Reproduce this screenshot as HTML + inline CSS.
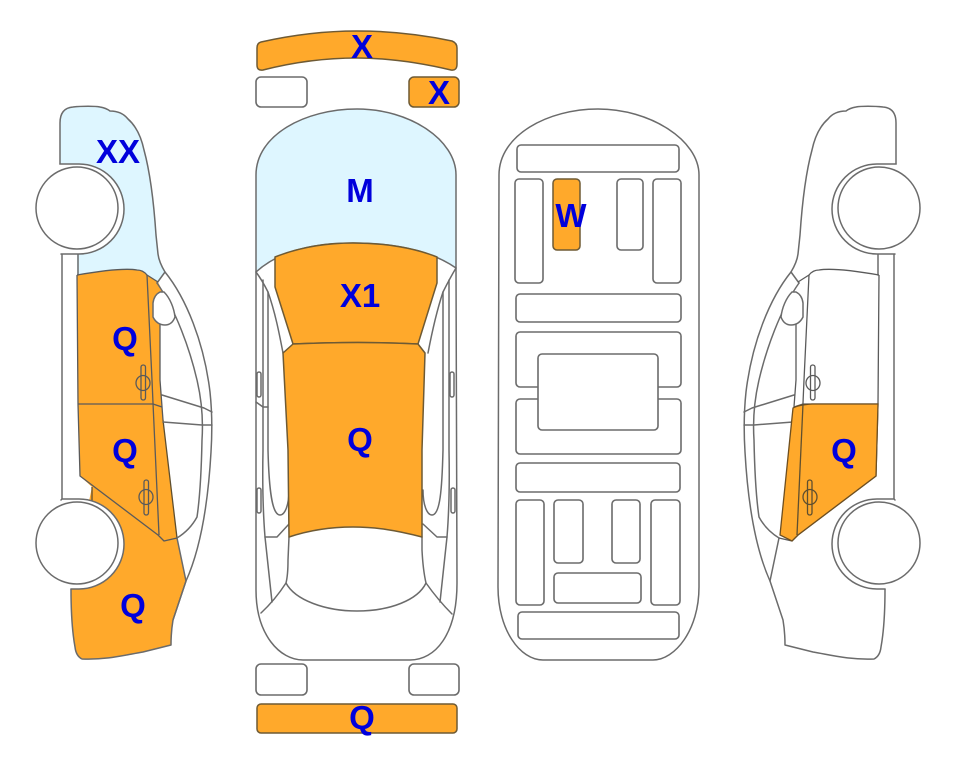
<!DOCTYPE html>
<html>
<head>
<meta charset="utf-8">
<style>
html,body{margin:0;padding:0;background:#fff;width:963px;height:768px;overflow:hidden}
svg{display:block}
.l{fill:none;stroke:#6b6b6b;stroke-width:1.5;stroke-linejoin:round;stroke-linecap:round}
.w{fill:#fff;stroke:#6b6b6b;stroke-width:1.5}
.o{fill:#ffa92b;stroke:#6e5a34;stroke-width:1.5;stroke-linejoin:round}
.b{fill:#def6ff;stroke:#6b6b6b;stroke-width:1.5;stroke-linejoin:round}
.d{fill:none;stroke:#5f4f2f;stroke-width:1.3;stroke-linejoin:round}
.r{fill:#fff;stroke:#6b6b6b;stroke-width:1.6}
text{font-family:"Liberation Sans",sans-serif;font-weight:bold;font-size:33px;fill:#0000dc;text-anchor:middle}
</style>
</head>
<body>
<svg width="963" height="768" viewBox="0 0 963 768" xmlns="http://www.w3.org/2000/svg">
<defs>
<g id="side">
  <path class="l" d="M60,164 L60,123 Q60,108 73,107 C82,106 95,106 100,107 Q106,108 110,111 C118,111 124,114 128,119 C136,126 141,136 144,150 C150,172 154,205 156,235 L158,254 Q159,262 165,272 C186,298 204,342 210,392 Q213,420 211,452 C208,505 200,550 186,581 L173,620 Q171,632 171,645 L143,652 C125,655 107,660 82,659 Q76,656 75,647 Q71,625 71,589"/>
  <path class="l" d="M165,272 L157,283"/>
  <path class="l" d="M157,283 C176,310 190,350 197,380 Q204,410 202,440 Q201,490 197,517 Q190,530 177,538"/>
  <path class="l" d="M177,538 L186,581"/>
  <path class="l" d="M162,395 L204,408 Q210,411 212,412 M163,422 L202,425 L212,425"/>
  <path class="l" d="M62,254 L62,500 M78,254 L78,275"/>
  <path class="w" d="M60,164 L79,164 A45,45 0 0 1 79,254 L61,254 Z" style="stroke:none"/>
  <path class="l" d="M60,164 L79,164 A45,45 0 0 1 79,254 L61,254"/>
  <path class="w" d="M61,499 L79,499 A45,45 0 0 1 79,589 L71,589 Z" style="stroke:none"/>
  <path class="l" d="M61,500 L62,499 L79,499 A45,45 0 0 1 79,589 L71,589"/>
  <circle class="w" cx="77" cy="208" r="41"/>
  <circle class="w" cx="77" cy="543" r="41"/>
  <path class="d" style="stroke:#5a5a5a" d="M77,275 L78,404 L80,476 L158,535 L164,541 L177,538"/>
  <path class="d" style="stroke:#5a5a5a" d="M77,275 C100,271 125,268 137,270 Q143,270 147,275 L158,282"/>
  <path class="d" style="stroke:#5a5a5a" d="M147,275 L152,380 L153,403 L159,535"/>
  <path class="d" style="stroke:#5a5a5a" d="M78,404 L153,404 L162,407"/>
  <path class="d" style="stroke:#5a5a5a" d="M160,292 L160,380 L163,420"/>
  <path class="w" d="M153,303 Q154,295 160,292 L164,292 C170,298 174,308 175,317 Q172,325 165,325 Q157,325 153,317 Z"/>
  <ellipse class="d" style="stroke:#5a5a5a" cx="143" cy="383" rx="7" ry="7.5"/>
  <rect class="d" style="stroke:#5a5a5a" x="141" y="365" width="4.5" height="35" rx="2.2"/>
  <ellipse class="d" style="stroke:#5a5a5a" cx="146" cy="497" rx="7" ry="7.5"/>
  <rect class="d" style="stroke:#5a5a5a" x="144" y="480" width="4.5" height="35" rx="2.2"/>
</g>
</defs>

<path fill="#def6ff" d="M60,164 L60,123 Q60,108 73,107 C82,106 95,106 100,107 Q106,108 110,111 C118,111 124,114 128,119 C136,126 141,136 144,150 C150,172 154,205 156,235 L158,254 Q159,262 165,272 L157,283 L147,275 L77,275 L77,250 Z"/>
<path fill="#ffa92b" d="M77,275 C100,271 125,268 137,270 Q143,270 147,275 L158,282 L163,292 L160,330 L160,380 L163,420 L177,538 L186,581 L173,620 Q171,632 171,645 L143,652 C125,655 107,660 82,659 Q76,656 75,647 Q71,625 71,587 L92,487 L80,476 L78,404 Z"/>
<path class="d" d="M92,487 L92,510 M163,420 L177,538 M186,581 L173,620"/>
<use href="#side"/>

<use href="#side" transform="translate(956,0) scale(-1,1)"/>
<path fill="#ffa92b" stroke="#6e4f20" stroke-width="1.3" d="M878,404 L876,476 L798,535 L792,541 L780,535 L793,408 Q798,405 812,404 Z"/>
<path class="d" d="M803,404 L797,535"/>
<ellipse class="d" cx="810" cy="497" rx="7" ry="7.5"/>
<rect class="d" x="807.500" y="480" width="4.500" height="35" rx="2.200"/>

<path class="o" d="M261,42 Q310,31 357,31 Q405,31 452,41 Q457,43 457,48 L457,64 Q457,71 451,70 Q400,58 357,58 Q310,58 263,70 Q257,71 257,65 L257,48 Q257,43 261,42 Z"/>
<rect class="r" x="256" y="77" width="51" height="30" rx="5"/>
<rect class="o" x="409" y="77" width="50" height="30" rx="5"/>

<path class="b" d="M256,272 L256,175 C256,135 305,109 357,109 C410,109 456,140 456,175 L456,268 C430,250 395,243 353,243 C315,243 280,250 256,272 Z"/>
<path class="l" d="M256,272 L256,590 C256,635 280,660 303,660 L410,660 C435,660 457,635 457,583 L456,268"/>
<path class="l" d="M256,272 Q262,280 268,292 C275,312 279,332 283,353 M456,268 Q450,278 443,292 C437,310 432,332 428,353"/>
<path class="l" d="M263,280 L263,450 Q262,500 265,537 L272,602 M449,280 L449,450 Q450,500 447,537 L440,602"/>
<path class="l" d="M268,292 L268,450 C269,490 272,515 280,515 C285,515 289,505 289,490 M443,292 L443,450 C442,490 440,515 432,515 C427,515 423,505 423,490"/>
<path class="l" d="M265,537 L277,537 L289,524 M447,537 L437,537 L423,524"/>
<path class="l" d="M256,402 L263,407 L268,407"/>
<rect class="l" x="257" y="372" width="4" height="25" rx="2"/>
<rect class="l" x="450" y="372" width="4" height="25" rx="2"/>
<rect class="l" x="257" y="488" width="4" height="25" rx="2"/>
<rect class="l" x="451" y="488" width="4" height="25" rx="2"/>
<path class="l" d="M289,537 L288,560 Q288,575 286,583 C295,600 325,611 357,611 C390,611 418,600 426,583 Q423,570 422,550 L422,537"/>
<path class="l" d="M286,583 Q275,600 261,613 M426,583 Q438,600 452,614"/>
<path class="o" d="M275,257 C300,247 325,243 353,243 C385,243 415,248 437,257 L437,283 L418,344 Q360,341 293,344 L275,287 Z"/>
<path class="o" d="M293,344 Q360,341 418,344 L425,353 L422,450 L422,537 C395,530 375,527 353,527 C330,527 310,530 289,537 L288,450 L283,353 Z"/>

<rect class="r" x="256" y="664" width="51" height="31" rx="5"/>
<rect class="r" x="409" y="664" width="50" height="31" rx="5"/>
<rect class="o" x="257" y="704" width="200" height="29" rx="4"/>

<path class="l" d="M499,175 C499,135 548,109 598,109 C650,109 699,140 699,175 L699,587 C699,630 675,660 653,660 L543,660 C520,660 498,630 498,587 Z"/>
<rect class="r" x="517" y="145" width="162" height="27" rx="4"/>
<rect class="r" x="515" y="179" width="28" height="104" rx="4"/>
<rect class="o" x="553" y="179" width="27" height="71" rx="4"/>
<rect class="r" x="617" y="179" width="26" height="71" rx="4"/>
<rect class="r" x="653" y="179" width="28" height="104" rx="4"/>
<rect class="r" x="516" y="294" width="165" height="28" rx="4"/>
<rect class="r" x="516" y="332" width="165" height="55" rx="4"/>
<rect class="r" x="516" y="399" width="165" height="55" rx="4"/>
<rect class="r" x="538" y="354" width="120" height="76" rx="4"/>
<rect class="r" x="516" y="463" width="164" height="29" rx="4"/>
<rect class="r" x="516" y="500" width="28" height="105" rx="4"/>
<rect class="r" x="554" y="500" width="29" height="63" rx="4"/>
<rect class="r" x="612" y="500" width="28" height="63" rx="4"/>
<rect class="r" x="651" y="500" width="29" height="105" rx="4"/>
<rect class="r" x="554" y="573" width="87" height="30" rx="4"/>
<rect class="r" x="518" y="612" width="161" height="27" rx="4"/>

<text x="118" y="163">XX</text>
<text x="125" y="350">Q</text>
<text x="125" y="462">Q</text>
<text x="133" y="617">Q</text>
<text x="362" y="58">X</text>
<text x="439" y="104">X</text>
<text x="360" y="202">M</text>
<text x="360" y="307">X1</text>
<text x="360" y="451">Q</text>
<text x="362" y="729">Q</text>
<text x="571" y="227">W</text>
<text x="844" y="462">Q</text>
</svg>
</body>
</html>
